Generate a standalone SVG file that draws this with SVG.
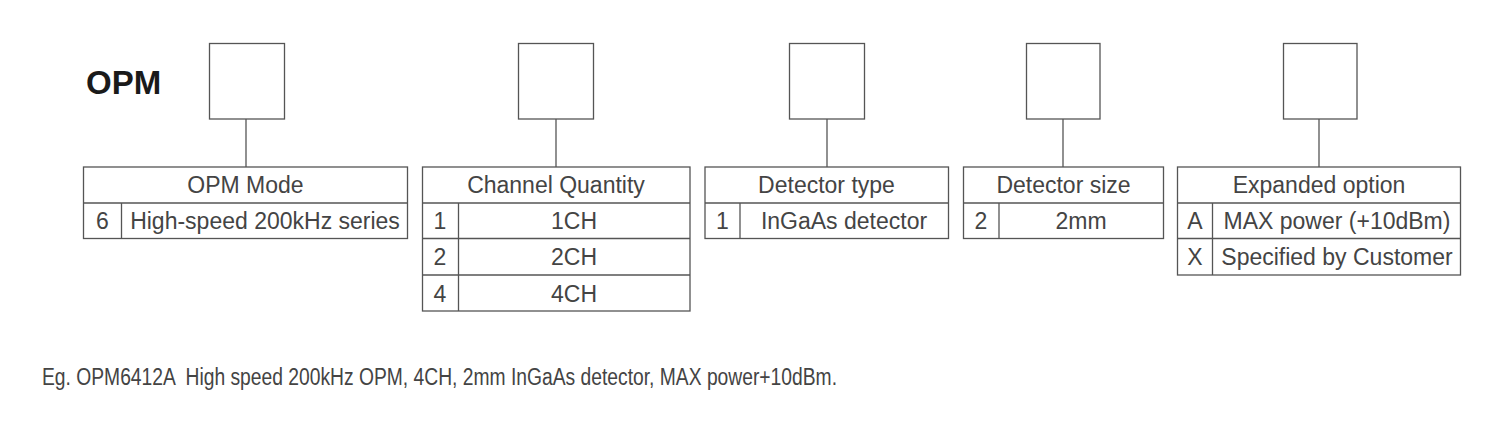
<svg xmlns="http://www.w3.org/2000/svg" width="1500" height="446" viewBox="0 0 1500 446">
<style>
.b{fill:#fff;stroke:#555;stroke-width:1.3}
.l{stroke:#555;stroke-width:1.3;fill:none}
.t{font-family:"Liberation Sans",Arial,sans-serif;font-size:23px;fill:#444;text-anchor:middle}
.tl{font-family:"Liberation Sans",Arial,sans-serif;font-size:23px;fill:#444}
.h{font-family:"Liberation Sans",Arial,sans-serif;font-size:33px;font-weight:bold;fill:#1a1a1a}
</style>
<rect width="1500" height="446" fill="#fff"/>
<text class="h" x="86" y="94">OPM</text>
<g id="connectors">
<line class="l" x1="246" y1="119" x2="246" y2="167"/>
<line class="l" x1="556" y1="119" x2="556" y2="167"/>
<line class="l" x1="827" y1="119" x2="827" y2="167"/>
<line class="l" x1="1063" y1="119" x2="1063" y2="167"/>
<line class="l" x1="1319" y1="119" x2="1319" y2="167"/>
</g>
<g id="box1"><rect class="b" x="209.5" y="43.5" width="75" height="75.5"/></g>
<g id="box2"><rect class="b" x="518.5" y="43.5" width="75" height="75.5"/></g>
<g id="box3"><rect class="b" x="789.5" y="43.5" width="75" height="75.5"/></g>
<g id="box4"><rect class="b" x="1026.5" y="43.5" width="73.5" height="75.5"/></g>
<g id="box5"><rect class="b" x="1283.5" y="43.5" width="73.5" height="75.5"/></g>
<g id="table-mode">
<rect class="b" x="83.5" y="167" width="324" height="71.5"/>
<line class="l" x1="83.5" y1="203" x2="407.5" y2="203"/>
<line class="l" x1="121.5" y1="203" x2="121.5" y2="238.5"/>
<text class="t" x="245.5" y="193">OPM Mode</text>
<text class="t" x="102.5" y="229">6</text>
<text class="t" x="265" y="229">High-speed 200kHz series</text>
</g>
<g id="table-channel">
<rect class="b" x="422.5" y="167" width="267.5" height="144"/>
<line class="l" x1="422.5" y1="203" x2="690" y2="203"/>
<line class="l" x1="422.5" y1="238.5" x2="690" y2="238.5"/>
<line class="l" x1="422.5" y1="275" x2="690" y2="275"/>
<line class="l" x1="458.5" y1="203" x2="458.5" y2="311"/>
<text class="t" x="556" y="193">Channel Quantity</text>
<text class="t" x="440" y="229">1</text>
<text class="t" x="574" y="229">1CH</text>
<text class="t" x="440" y="265">2</text>
<text class="t" x="574" y="265">2CH</text>
<text class="t" x="440" y="302">4</text>
<text class="t" x="574" y="302">4CH</text>
</g>
<g id="table-type">
<rect class="b" x="705" y="167" width="243.5" height="71.5"/>
<line class="l" x1="705" y1="203" x2="948.5" y2="203"/>
<line class="l" x1="740" y1="203" x2="740" y2="238.5"/>
<text class="t" x="826.5" y="193">Detector type</text>
<text class="t" x="722.5" y="229">1</text>
<text class="t" x="844" y="229">InGaAs detector</text>
</g>
<g id="table-size">
<rect class="b" x="963.5" y="167" width="200" height="71.5"/>
<line class="l" x1="963.5" y1="203" x2="1163.5" y2="203"/>
<line class="l" x1="999" y1="203" x2="999" y2="238.5"/>
<text class="t" x="1063.5" y="193">Detector size</text>
<text class="t" x="981" y="229">2</text>
<text class="t" x="1081" y="229">2mm</text>
</g>
<g id="table-option">
<rect class="b" x="1177.5" y="167" width="283" height="108"/>
<line class="l" x1="1177.5" y1="203" x2="1460.5" y2="203"/>
<line class="l" x1="1177.5" y1="238.5" x2="1460.5" y2="238.5"/>
<line class="l" x1="1212.5" y1="203" x2="1212.5" y2="275"/>
<text class="t" x="1319" y="193">Expanded option</text>
<text class="t" x="1195" y="229">A</text>
<text class="t" x="1337" y="229">MAX power (+10dBm)</text>
<text class="t" x="1195" y="265">X</text>
<text class="t" x="1337" y="265">Specified by Customer</text>
</g>
<text class="tl" x="42" y="384.5" textLength="795" lengthAdjust="spacingAndGlyphs" xml:space="preserve">Eg. OPM6412A  High speed 200kHz OPM, 4CH, 2mm InGaAs detector, MAX power+10dBm.</text>
</svg>
